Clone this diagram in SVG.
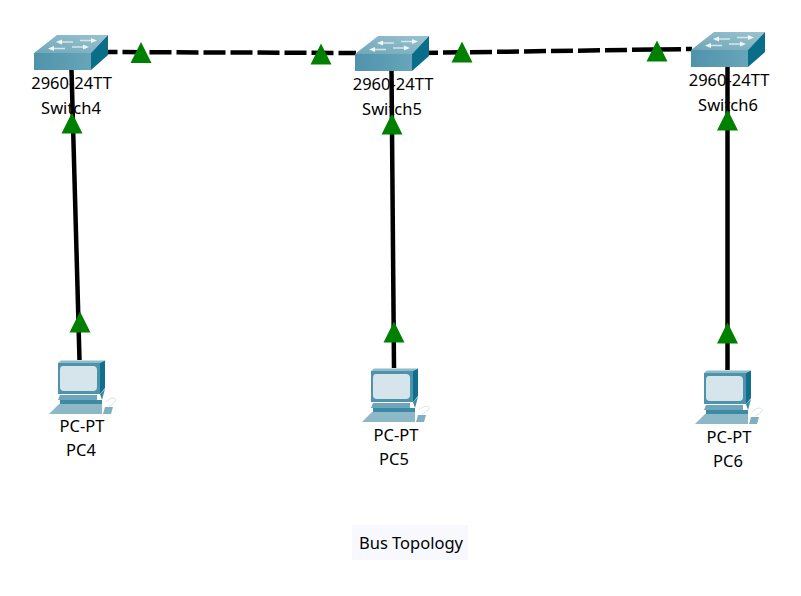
<svg xmlns="http://www.w3.org/2000/svg" width="801" height="596" viewBox="0 0 801 596">
<style>
text{font-family:"Noto Sans","Open Sans",sans-serif;font-size:16.500px;fill:#000;text-anchor:middle}
.link{stroke:#000;stroke-width:4.500;fill:none}
.dash{stroke-dasharray:22 5}
.tri{fill:#008000}
</style>
<defs>
<linearGradient id="front" x1="0" x2="1" y1="0" y2="0"><stop offset="0" stop-color="#4f93ab"/><stop offset="1" stop-color="#67a5ba"/></linearGradient>
<linearGradient id="top" x1="0" x2="1" y1="1" y2="0"><stop offset="0" stop-color="#6ea6b8"/><stop offset="1" stop-color="#9cc3cf"/></linearGradient>
<g id="sw">
<path d="M0 18L23 0H74L57 18Z" fill="url(#top)"/>
<path d="M0 18H57V35H0Z" fill="url(#front)"/>
<path d="M57 18L74 0V20L57 35Z" fill="#0a6d8a"/>
<g stroke="#d5e6eb" stroke-width="1.500" fill="none"><path d="M26 7H39M46 5.500H59M18 13.500H31M38 12H51"/></g>
<g fill="#eef6f8"><path d="M22 7L28 4.500V9.500Z"/><path d="M63 5.500L57 3V8Z"/><path d="M14 13.500L20 11V16Z"/><path d="M55 12L49 9.500V14.500Z"/></g>
</g>
<g id="pc">
<path d="M9 3L12 0.500H56L51 3Z" fill="#8fbccb"/>
<path d="M9 3H51V34H9Z" fill="#4f93ab"/>
<path d="M51 3L56 0.500V28L51 34Z" fill="#0f6f8c"/>
<path d="M14 6H44Q48 6 48 10V27Q48 31 44 31H15Q11 31 11 27V10Q11 6 14 6Z" fill="#d6e5ec"/>
<path d="M11 35H48V40H9Z" fill="#6da6ba"/>
<path d="M11 40H53V44H11Z" fill="#3d8aa3"/>
<path d="M10 44H53V54H0Z" fill="#8db8c7"/>
<path d="M51 34L56 29 53 40Z" fill="#3d8aa3"/>
<path d="M56 47H64L62 54H54Z" fill="#7fb0c2"/>
<path d="M57 42C63 36 70 38 66 42C64 44 62 45 60 46" fill="none" stroke="#d7e6ea"/>
</g>
<path id="t" class="tri" d="M0 -10.500L10.500 10.500H-10.500Z"/>
</defs>
<g id="connectors">
<path class="link dash" d="M95.500 52L356 53"/>
<path class="link dash" d="M416 53L692 49"/>
<path class="link" d="M71.500 70L79.500 360"/>
<path class="link" d="M391.500 70L394 368"/>
<path class="link" d="M727.500 66V370"/>
<use href="#t" x="141" y="52.500"/>
<use href="#t" x="321" y="54"/>
<use href="#t" x="462" y="52"/>
<use href="#t" x="657" y="51"/>
<use href="#t" x="72" y="123"/>
<use href="#t" x="80" y="322"/>
<use href="#t" x="392" y="124"/>
<use href="#t" x="394" y="332"/>
<use href="#t" x="727.500" y="120"/>
<use href="#t" x="727.500" y="333"/>
</g>
<g id="switch4"><use href="#sw" x="34" y="35"/><text x="71.500" y="89">2960-24TT</text><text x="71" y="114">Switch4</text></g>
<g id="switch5"><use href="#sw" x="355" y="36"/><text x="393" y="90">2960-24TT</text><text x="392" y="115">Switch5</text></g>
<g id="switch6"><use href="#sw" x="691" y="32"/><text x="729" y="86">2960-24TT</text><text x="728" y="111">Switch6</text></g>
<g id="pc4"><use href="#pc" x="49" y="360"/><text x="82" y="432">PC-PT</text><text x="81" y="456">PC4</text></g>
<g id="pc5"><use href="#pc" x="362" y="368"/><text x="396" y="441">PC-PT</text><text x="394" y="465">PC5</text></g>
<g id="pc6"><use href="#pc" x="695" y="370"/><text x="729" y="443">PC-PT</text><text x="728" y="467">PC6</text></g>
<g id="note"><rect x="352" y="525" width="116" height="35" fill="#f8f9ff"/><text x="411" y="549">Bus Topology</text></g>
</svg>
